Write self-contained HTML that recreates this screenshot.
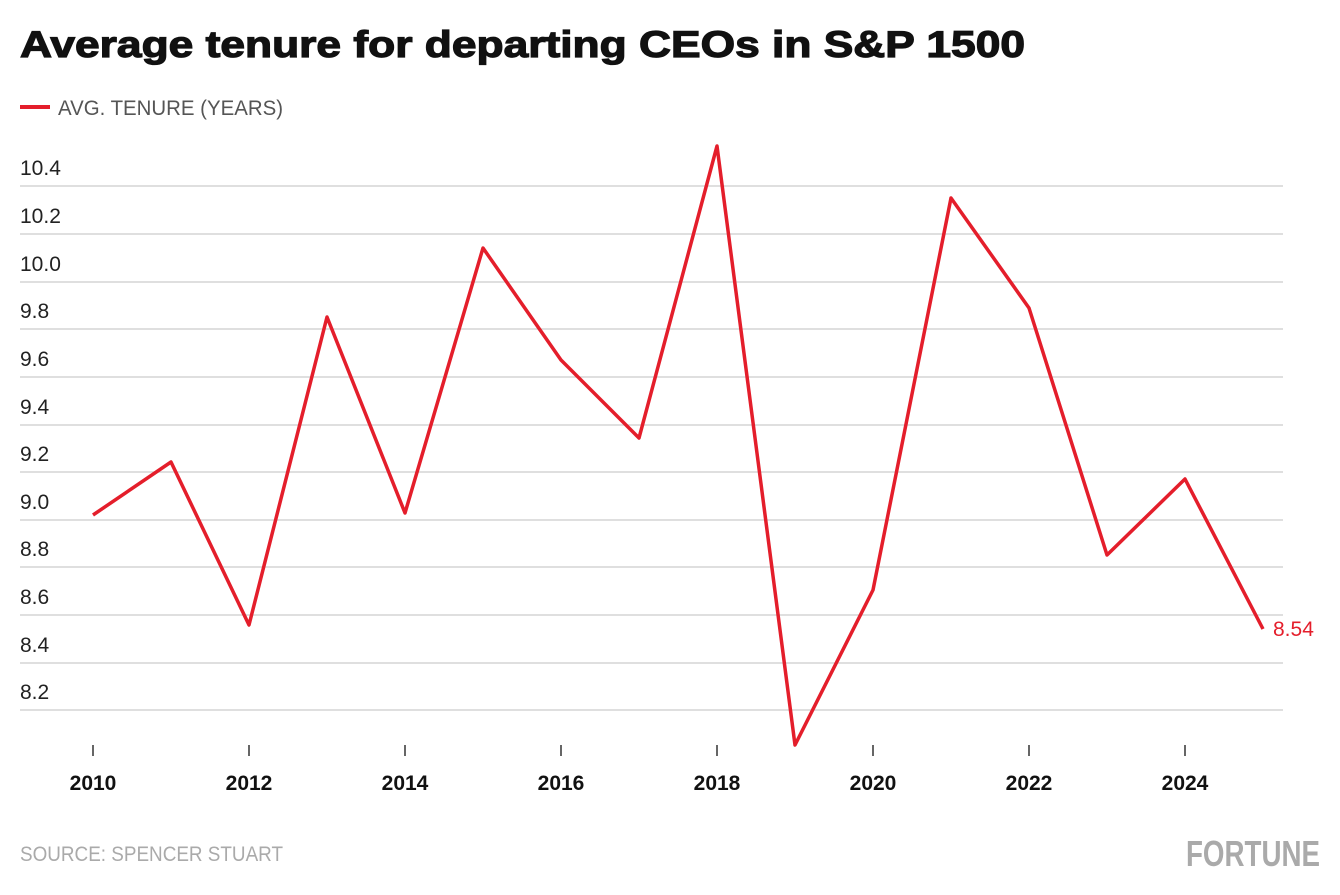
<!DOCTYPE html>
<html><head><meta charset="utf-8"><style>
body{margin:0;background:#fff;width:1340px;height:890px;overflow:hidden;font-family:"Liberation Sans",sans-serif}
</style></head><body>
<svg width="1340" height="890" xmlns="http://www.w3.org/2000/svg" font-family="Liberation Sans, sans-serif">
<text x="20" y="57" font-size="37" font-weight="bold" fill="#111" stroke="#111" stroke-width="1.2" textLength="1005" lengthAdjust="spacingAndGlyphs">Average tenure for departing CEOs in S&amp;P 1500</text>
<line x1="20" y1="107" x2="50" y2="107" stroke="#e41e2b" stroke-width="4"/>
<text x="58" y="115" font-size="21" fill="#555" textLength="225" lengthAdjust="spacingAndGlyphs">AVG. TENURE (YEARS)</text>
<g stroke="#cccccc" stroke-width="1.2">
<line x1="20" x2="1283" y1="186" y2="186"/><line x1="20" x2="1283" y1="234" y2="234"/>
<line x1="20" x2="1283" y1="282" y2="282"/><line x1="20" x2="1283" y1="329" y2="329"/>
<line x1="20" x2="1283" y1="377" y2="377"/><line x1="20" x2="1283" y1="425" y2="425"/>
<line x1="20" x2="1283" y1="472" y2="472"/><line x1="20" x2="1283" y1="520" y2="520"/>
<line x1="20" x2="1283" y1="567" y2="567"/><line x1="20" x2="1283" y1="615" y2="615"/>
<line x1="20" x2="1283" y1="663" y2="663"/><line x1="20" x2="1283" y1="710" y2="710"/>
</g>
<g font-size="21" fill="#222">
<text x="20" y="175">10.4</text><text x="20" y="223">10.2</text><text x="20" y="271">10.0</text>
<text x="20" y="318">9.8</text><text x="20" y="366">9.6</text><text x="20" y="414">9.4</text>
<text x="20" y="461">9.2</text><text x="20" y="509">9.0</text><text x="20" y="556">8.8</text>
<text x="20" y="604">8.6</text><text x="20" y="652">8.4</text><text x="20" y="699">8.2</text>
</g>
<g stroke="#333" stroke-width="1.5">
<line x1="93" x2="93" y1="745" y2="756"/><line x1="249" x2="249" y1="745" y2="756"/>
<line x1="405" x2="405" y1="745" y2="756"/><line x1="561" x2="561" y1="745" y2="756"/>
<line x1="717" x2="717" y1="745" y2="756"/><line x1="873" x2="873" y1="745" y2="756"/>
<line x1="1029" x2="1029" y1="745" y2="756"/><line x1="1185" x2="1185" y1="745" y2="756"/>
</g>
<g font-size="21" font-weight="bold" fill="#111" text-anchor="middle">
<text x="93" y="790">2010</text><text x="249" y="790">2012</text><text x="405" y="790">2014</text>
<text x="561" y="790">2016</text><text x="717" y="790">2018</text><text x="873" y="790">2020</text>
<text x="1029" y="790">2022</text><text x="1185" y="790">2024</text>
</g>
<polyline fill="none" stroke="#e41e2b" stroke-width="3.5" stroke-linejoin="round"
points="93,515 171,462 249,625 327,317 405,513 483,248 561,360 639,438 717,146 795,745 873,590 951,198 1029,308 1107,555 1185,479 1263,629"/>
<text x="1273" y="636" font-size="21" fill="#e41e2b">8.54</text>
<text x="20" y="861" font-size="21" fill="#aaa" textLength="263" lengthAdjust="spacingAndGlyphs">SOURCE: SPENCER STUART</text>
<text x="1320" y="866" font-size="36" font-weight="bold" fill="#aaa" text-anchor="end" textLength="134" lengthAdjust="spacingAndGlyphs">FORTUNE</text>
</svg>
</body></html>
